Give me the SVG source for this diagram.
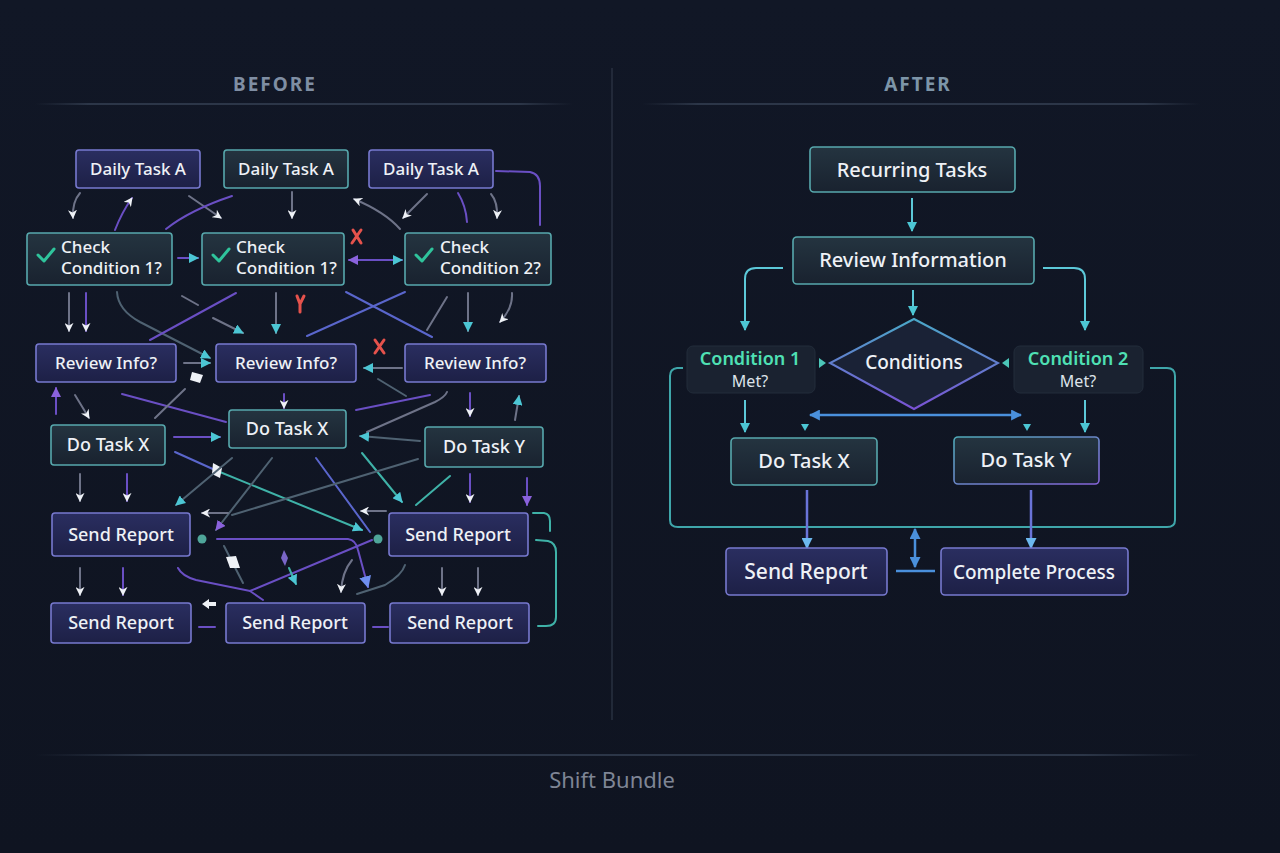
<svg xmlns="http://www.w3.org/2000/svg" width="1280" height="853" viewBox="0 0 1280 853">
<defs>
<linearGradient id="bg" x1="0" y1="0" x2="0" y2="1"><stop offset="0" stop-color="#111726"/><stop offset="1" stop-color="#0f1421"/></linearGradient>
<linearGradient id="gp" x1="0" y1="0" x2="0" y2="1"><stop offset="0" stop-color="#2a2e60"/><stop offset="1" stop-color="#1d2046"/></linearGradient>
<linearGradient id="gt" x1="0" y1="0" x2="0" y2="1"><stop offset="0" stop-color="#243440"/><stop offset="1" stop-color="#19222f"/></linearGradient>
<linearGradient id="gd" x1="0" y1="0" x2="0" y2="1"><stop offset="0" stop-color="#4aa8c8"/><stop offset="1" stop-color="#7a52d4"/></linearGradient>
<linearGradient id="gy" x1="0" y1="0" x2="1" y2="1"><stop offset="0" stop-color="#4fa9b8"/><stop offset="1" stop-color="#8563d8"/></linearGradient>
<linearGradient id="hl" x1="0" y1="0" x2="1" y2="0"><stop offset="0" stop-color="#2a3344" stop-opacity="0"/><stop offset="0.1" stop-color="#2c3648"/><stop offset="0.9" stop-color="#2c3648"/><stop offset="1" stop-color="#2a3344" stop-opacity="0"/></linearGradient>
<marker id="mW" viewBox="0 0 10 10" refX="9" refY="5" markerWidth="9" markerHeight="9" markerUnits="userSpaceOnUse" orient="auto"><path d="M0,0 L10,5 L0,10 L3,5 z" fill="#eef1f6"/></marker>
<marker id="mT" viewBox="0 0 10 10" refX="9" refY="5" markerWidth="10" markerHeight="10" markerUnits="userSpaceOnUse" orient="auto"><path d="M0,0 L10,5 L0,10 z" fill="#4cc6d4"/></marker>
<marker id="mP" viewBox="0 0 10 10" refX="9" refY="5" markerWidth="10" markerHeight="10" markerUnits="userSpaceOnUse" orient="auto"><path d="M0,0 L10,5 L0,10 z" fill="#8a62dc"/></marker>
<marker id="mB" viewBox="0 0 10 10" refX="9" refY="5" markerWidth="12" markerHeight="12" markerUnits="userSpaceOnUse" orient="auto"><path d="M0,0 L10,5 L0,10 z" fill="#6f8ff0"/></marker>
<marker id="mL" viewBox="0 0 10 10" refX="9" refY="5" markerWidth="11" markerHeight="11" markerUnits="userSpaceOnUse" orient="auto"><path d="M0,0 L10,5 L0,10 z" fill="#6cb8ee"/></marker>
<marker id="mLs" viewBox="0 0 10 10" refX="1" refY="5" markerWidth="11" markerHeight="11" markerUnits="userSpaceOnUse" orient="auto"><path d="M10,0 L0,5 L10,10 z" fill="#4a90dc"/></marker>
<marker id="mLe" viewBox="0 0 10 10" refX="9" refY="5" markerWidth="11" markerHeight="11" markerUnits="userSpaceOnUse" orient="auto"><path d="M0,0 L10,5 L0,10 z" fill="#4a90dc"/></marker>
<marker id="mPs" viewBox="0 0 10 10" refX="1" refY="5" markerWidth="10" markerHeight="10" markerUnits="userSpaceOnUse" orient="auto"><path d="M10,0 L0,5 L10,10 z" fill="#8a62dc"/></marker>
</defs>
<style>
text{font-family:"Noto Sans","Open Sans","DejaVu Sans",sans-serif;fill:#eef1f6;font-weight:500;}
.t17{font-size:17px;}
.t18{font-size:18px;}
.t20{font-size:20px;}
.mid{text-anchor:middle;}
.bp{fill:url(#gp);stroke:#7779cf;stroke-width:1.6;}
.bt{fill:url(#gt);stroke:#57a8ad;stroke-width:1.6;}
.ck{fill:none;stroke:#2fc49c;stroke-width:3;stroke-linecap:round;stroke-linejoin:round;}
.c{fill:none;stroke-width:2;stroke-linecap:round;}
.gy{stroke:#6e7388;}
.pu{stroke:#6a4fc4;}
.bl{stroke:#5a66cc;}
.te{stroke:#3fb2a8;}
.sl{stroke:#4f6272;}
.rx{stroke:#e5524c;stroke-width:3;stroke-linecap:round;fill:none;}
.tc{fill:none;stroke:#5cc8d8;stroke-width:2;}
.lp{fill:none;stroke:#3fa6aa;stroke-width:2;}
.hd{font-size:19px;font-weight:bold;letter-spacing:2px;}
</style>
<rect width="1280" height="853" fill="url(#bg)"/>

<g id="frame">
<text x="275" y="91" class="hd mid" style="fill:#7f8ea3">BEFORE</text>
<text x="918" y="91" class="hd mid" style="fill:#7d95a8">AFTER</text>
<rect x="35" y="103" width="538" height="2" fill="url(#hl)"/>
<rect x="642" y="103" width="558" height="2" fill="url(#hl)"/>
<line x1="612" y1="68" x2="612" y2="720" stroke="#283041" stroke-width="1.5"/>
<rect x="35" y="754" width="1165" height="2" fill="url(#hl)"/>
<text x="612" y="788" class="mid" style="font-size:22px;fill:#7e8595;font-weight:400">Shift Bundle</text>
</g>

<g id="connectors-before">
<path class="c gy" d="M80,193 Q72,202 73,218" marker-end="url(#mW)"/>
<path class="c pu" d="M115,230 Q122,212 132,198" marker-end="url(#mW)"/>
<path class="c gy" d="M189,196 L221,218" marker-end="url(#mW)"/>
<path class="c pu" d="M166,229 Q190,210 232,196"/>
<line class="c gy" x1="292" y1="192" x2="292" y2="218" marker-end="url(#mW)"/>
<path class="c gy" d="M400,229 Q385,212 354,199" marker-end="url(#mW)"/>
<path class="c gy" d="M427,194 L403,218" marker-end="url(#mW)"/>
<path class="c pu" d="M458,193 Q466,206 467,222"/>
<path class="c gy" d="M491,194 Q498,202 497,218" marker-end="url(#mW)"/>
<path class="c pu" d="M496,171 L530,172 Q540,174 540,186 L540,225"/>
<path class="rx" d="M353,230 L361,243 M361,230 L352,243"/>
<line class="c pu" x1="178" y1="258" x2="198" y2="258" marker-end="url(#mT)"/>
<line class="c pu" x1="349" y1="260" x2="402" y2="260" marker-start="url(#mPs)" marker-end="url(#mT)"/>
<line class="c gy" x1="69" y1="293" x2="69" y2="331" marker-end="url(#mW)"/>
<line class="c pu" x1="86" y1="293" x2="86" y2="331" marker-end="url(#mW)"/>
<path class="c sl" d="M117,292 Q118,310 140,322 L210,358" marker-end="url(#mT)"/>
<line class="c pu" x1="150" y1="340" x2="236" y2="293"/>
<line class="c gy" x1="182" y1="296" x2="198" y2="305"/>
<line class="c gy" x1="213" y1="318" x2="243" y2="333" marker-end="url(#mT)"/>
<line class="c gy" x1="276" y1="293" x2="276" y2="333" marker-end="url(#mT)"/>
<path class="rx" d="M297,296 L300,304 L304,296 M300,304 L300,312"/>
<line class="c bl" x1="307" y1="336" x2="405" y2="292"/>
<line class="c bl" x1="346" y1="292" x2="432" y2="337"/>
<line class="c gy" x1="427" y1="330" x2="447" y2="297"/>
<line class="c gy" x1="468" y1="293" x2="468" y2="331" marker-end="url(#mT)"/>
<path class="c gy" d="M512,293 Q513,308 500,322" marker-end="url(#mW)"/>
<path class="rx" d="M375,340 L384,353 M384,340 L375,353"/>
<line class="c gy" x1="184" y1="363" x2="210" y2="363" marker-end="url(#mT)"/>
<path d="M192,372 L203,375 L200,383 L190,380 Z" fill="#eef1f6"/>
<line class="c gy" x1="402" y1="368" x2="364" y2="368" marker-end="url(#mT)"/>
<line class="c sl" x1="406" y1="396" x2="378" y2="379"/>
<line class="c pu" x1="56" y1="414" x2="56" y2="388" marker-end="url(#mP)"/>
<line class="c gy" x1="75" y1="395" x2="89" y2="418" marker-end="url(#mW)"/>
<line class="c pu" x1="122" y1="394" x2="226" y2="422"/>
<line class="c gy" x1="155" y1="418" x2="185" y2="389"/>
<line class="c pu" x1="284" y1="394" x2="284" y2="408" marker-end="url(#mW)"/>
<line class="c pu" x1="356" y1="410" x2="430" y2="395"/>
<path class="c gy" d="M367,432 L435,402 Q445,397 447,392"/>
<line class="c pu" x1="470" y1="393" x2="470" y2="416" marker-end="url(#mW)"/>
<line class="c gy" x1="515" y1="420" x2="519" y2="396" marker-end="url(#mT)"/>
<line class="c pu" x1="174" y1="437" x2="220" y2="437" stroke-width="3" marker-end="url(#mT)"/>
<line class="c sl" x1="420" y1="441" x2="360" y2="436" marker-end="url(#mT)"/>
<line class="c bl" x1="175" y1="452" x2="215" y2="470"/>
<line class="c te" x1="215" y1="470" x2="362" y2="530" marker-end="url(#mT)"/>
<path d="M213,463 L222,468 L220,478 L212,474 Z" fill="#eef1f6"/>
<line class="c sl" x1="232" y1="458" x2="176" y2="505" marker-end="url(#mT)"/>
<line class="c sl" x1="272" y1="458" x2="216" y2="530" marker-end="url(#mP)"/>
<line class="c bl" x1="316" y1="458" x2="370" y2="532"/>
<line class="c te" x1="362" y1="453" x2="402" y2="502" marker-end="url(#mT)"/>
<line class="c te" x1="450" y1="476" x2="416" y2="505"/>
<line class="c sl" x1="418" y1="459" x2="232" y2="515"/>
<line class="c pu" x1="470" y1="474" x2="470" y2="502" marker-end="url(#mW)"/>
<line class="c pu" x1="527" y1="478" x2="527" y2="505" stroke-width="3" marker-end="url(#mP)"/>
<line class="c gy" x1="228" y1="513" x2="202" y2="513" marker-end="url(#mW)"/>
<line class="c gy" x1="386" y1="511" x2="361" y2="511" marker-end="url(#mW)"/>
<line class="c gy" x1="80" y1="474" x2="80" y2="501" marker-end="url(#mW)"/>
<line class="c pu" x1="127" y1="474" x2="127" y2="501" marker-end="url(#mW)"/>
<circle cx="202" cy="539" r="4.5" fill="#4fa69a"/>
<circle cx="378" cy="539" r="4.5" fill="#4fa69a"/>
<path class="c pu" d="M217,539 L348,539 Q356,540 358,550 L368,587" marker-end="url(#mB)"/>
<line class="c sl" x1="224" y1="546" x2="243" y2="583"/>
<path d="M226,557 L236,556 L240,568 L230,568 Z" fill="#eef1f6"/>
<path class="c pu" d="M178,568 Q182,576 196,580 L250,591 L372,540"/>
<line class="c pu" x1="250" y1="591" x2="263" y2="600"/>
<path d="M284,550 L288,558 L285,566 L281,558 Z" fill="#7a66c8"/>
<line class="c te" x1="289" y1="568" x2="296" y2="584" marker-end="url(#mT)"/>
<path class="c gy" d="M352,560 Q342,572 341,592" marker-end="url(#mW)"/>
<path class="c sl" d="M357,594 L385,585 Q402,575 405,565"/>
<line class="c gy" x1="80" y1="568" x2="80" y2="595" marker-end="url(#mW)"/>
<line class="c pu" x1="123" y1="568" x2="123" y2="595" marker-end="url(#mW)"/>
<line class="c gy" x1="442" y1="568" x2="442" y2="595" marker-end="url(#mW)"/>
<line class="c gy" x1="478" y1="568" x2="478" y2="595" marker-end="url(#mW)"/>
<path d="M202,604 L209,599 L209,602 L216,602 L216,606 L209,606 L209,609 Z" fill="#eef1f6"/>
<line class="c pu" x1="199" y1="627" x2="215" y2="627" stroke-width="3"/>
<line class="c pu" x1="373" y1="627" x2="388" y2="627" stroke-width="3"/>
<path class="c te" d="M533,513 L544,513 Q550,514 550,521 L550,531"/>
<path class="c te" d="M536,540 L548,541 Q556,543 556,552 L556,617 Q556,626 546,626 L538,626"/>
</g>

<g id="nodes-before">
<g id="dta1"><rect class="bp" x="76" y="150" width="124" height="38" rx="3"/><text x="138" y="175" class="t17 mid">Daily Task A</text></g>
<g id="dta2"><rect class="bt" x="224" y="150" width="124" height="38" rx="3"/><text x="286" y="175" class="t17 mid">Daily Task A</text></g>
<g id="dta3"><rect class="bp" x="369" y="150" width="124" height="38" rx="3"/><text x="431" y="175" class="t17 mid">Daily Task A</text></g>
<g id="cc1"><rect class="bt" x="27" y="233" width="145" height="52" rx="3"/><path class="ck" d="M38,255 L44,261 L54,249"/><text x="61" y="253" class="t17">Check</text><text x="61" y="274" class="t17">Condition 1?</text></g>
<g id="cc2"><rect class="bt" x="202" y="233" width="142" height="52" rx="3"/><path class="ck" d="M213,255 L219,261 L229,249"/><text x="236" y="253" class="t17">Check</text><text x="236" y="274" class="t17">Condition 1?</text></g>
<g id="cc3"><rect class="bt" x="405" y="233" width="146" height="52" rx="3"/><path class="ck" d="M416,255 L422,261 L432,249"/><text x="440" y="253" class="t17">Check</text><text x="440" y="274" class="t17">Condition 2?</text></g>
<g id="ri1"><rect class="bp" x="36" y="344" width="140" height="38" rx="3"/><text x="106" y="369" class="t17 mid">Review Info?</text></g>
<g id="ri2"><rect class="bp" x="216" y="344" width="140" height="38" rx="3"/><text x="286" y="369" class="t17 mid">Review Info?</text></g>
<g id="ri3"><rect class="bp" x="405" y="344" width="141" height="38" rx="3"/><text x="475" y="369" class="t17 mid">Review Info?</text></g>
<g id="dtx1"><rect class="bt" x="51" y="425" width="114" height="40" rx="3"/><text x="108" y="451" class="t18 mid">Do Task X</text></g>
<g id="dtx2"><rect class="bt" x="229" y="410" width="117" height="38" rx="3"/><text x="287" y="435" class="t18 mid">Do Task X</text></g>
<g id="dty"><rect class="bt" x="425" y="427" width="118" height="40" rx="3"/><text x="484" y="453" class="t18 mid">Do Task Y</text></g>
<g id="sr1"><rect class="bp" x="52" y="513" width="138" height="43" rx="3"/><text x="121" y="541" class="t18 mid">Send Report</text></g>
<g id="sr2"><rect class="bp" x="389" y="513" width="139" height="43" rx="3"/><text x="458" y="541" class="t18 mid">Send Report</text></g>
<g id="sr3"><rect class="bp" x="51" y="603" width="140" height="40" rx="3"/><text x="121" y="629" class="t18 mid">Send Report</text></g>
<g id="sr4"><rect class="bp" x="226" y="603" width="139" height="40" rx="3"/><text x="295" y="629" class="t18 mid">Send Report</text></g>
<g id="sr5"><rect class="bp" x="390" y="603" width="139" height="40" rx="3"/><text x="460" y="629" class="t18 mid">Send Report</text></g>
</g>

<g id="connectors-after">
<line class="tc" x1="912" y1="198" x2="912" y2="231" marker-end="url(#mT)"/>
<path class="tc" d="M783,268 L756,268 Q745,268 745,279 L745,330" marker-end="url(#mT)"/>
<path class="tc" d="M1043,268 L1074,268 Q1085,268 1085,279 L1085,330" marker-end="url(#mT)"/>
<line class="tc" x1="913" y1="290" x2="913" y2="315" marker-end="url(#mT)"/>
<path d="M819,358 L826,363 L819,368 Z" fill="#4cc6b8"/>
<path d="M1009,358 L1002,363 L1009,368 Z" fill="#4cc6b8"/>
<line class="tc" x1="745" y1="400" x2="745" y2="432" marker-end="url(#mT)"/>
<line class="tc" x1="1085" y1="400" x2="1085" y2="432" marker-end="url(#mT)"/>
<line x1="810" y1="415" x2="1021" y2="415" stroke="#4a90dc" stroke-width="2.5" marker-start="url(#mLs)" marker-end="url(#mLe)"/>
<path d="M801,424 L809,424 L805,431 Z" fill="#4cc6d4"/>
<path d="M1023,424 L1031,424 L1027,431 Z" fill="#4cc6d4"/>
<path class="lp" d="M683,368 L677,368 Q670,369 670,376 L670,520 Q670,527 678,527 L1167,527 Q1175,527 1175,520 L1175,376 Q1175,368 1167,368 L1150,368"/>
<line x1="807" y1="490" x2="807" y2="548" stroke="#6a74d8" stroke-width="2.5" marker-end="url(#mL)"/>
<line x1="1031" y1="490" x2="1031" y2="548" stroke="#6a74d8" stroke-width="2.5" marker-end="url(#mL)"/>
<line x1="915" y1="529" x2="915" y2="567" stroke="#4a90dc" stroke-width="2.5" marker-start="url(#mLs)" marker-end="url(#mLe)"/>
<line x1="896" y1="571" x2="935" y2="571" stroke="#4a90dc" stroke-width="2.5"/>
</g>

<g id="nodes-after">
<g id="recurring"><rect class="bt" x="810" y="147" width="205" height="45" rx="4"/><text x="912" y="177" class="t20 mid">Recurring Tasks</text></g>
<g id="review"><rect class="bt" x="793" y="237" width="241" height="47" rx="4"/><text x="913" y="267" class="t20 mid">Review Information</text></g>
<g id="conditions"><path d="M914,319 L998,363 L914,409 L830,363 Z" fill="#1a2236" stroke="url(#gd)" stroke-width="2"/><text x="914" y="369" class="t18 mid" style="font-size:19px">Conditions</text></g>
<g id="cond1"><rect x="687" y="346" width="128" height="47" rx="6" fill="#1a2230" stroke="#222c3a" stroke-width="1"/><text x="750" y="365" class="t18 mid" style="fill:#4fe0b4;font-weight:600">Condition 1</text><text x="750" y="387" class="mid" style="font-size:16px;fill:#dde3ea;font-weight:400">Met?</text></g>
<g id="cond2"><rect x="1014" y="346" width="129" height="47" rx="6" fill="#1a2230" stroke="#222c3a" stroke-width="1"/><text x="1078" y="365" class="t18 mid" style="fill:#4fe0b4;font-weight:600">Condition 2</text><text x="1078" y="387" class="mid" style="font-size:16px;fill:#dde3ea;font-weight:400">Met?</text></g>
<g id="taskx"><rect class="bt" x="731" y="438" width="146" height="47" rx="4"/><text x="804" y="468" class="t20 mid">Do Task X</text></g>
<g id="tasky"><rect x="954" y="437" width="145" height="47" rx="4" fill="url(#gt)" stroke="url(#gy)" stroke-width="1.6"/><text x="1026" y="467" class="t20 mid">Do Task Y</text></g>
<g id="sendreport"><rect class="bp" x="726" y="548" width="161" height="47" rx="4"/><text x="806" y="579" class="t20 mid" style="font-size:21px">Send Report</text></g>
<g id="complete"><rect class="bp" x="941" y="548" width="187" height="47" rx="4"/><text x="1034" y="579" class="mid" style="font-size:19px">Complete Process</text></g>
</g>
</svg>
